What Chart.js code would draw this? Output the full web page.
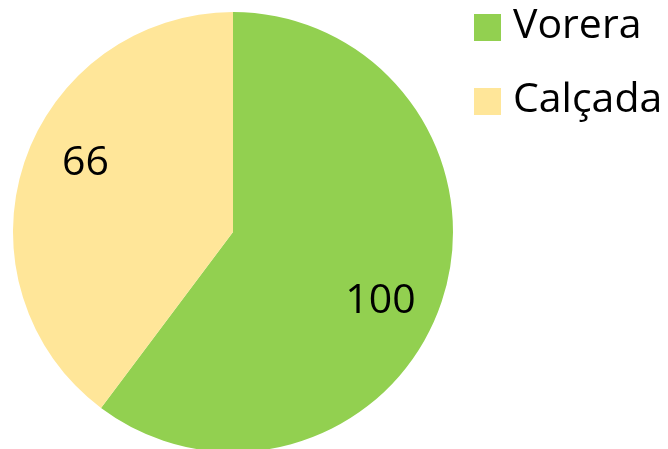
<!DOCTYPE html>
<html>
<head>
<meta charset="utf-8">
<script src="https://cdn.jsdelivr.net/npm/chart.js@4"></script>
<style>
  html, body { margin: 0; padding: 0; background: #fff; overflow: hidden; }
  #wrap { position: relative; width: 668px; height: 464px; }
</style>
</head>
<body>
<div id="wrap"><canvas id="pieChart"></canvas></div>
<script>
// slice data
const categories = ['Vorera', 'Calçada'];
const values = [100, 66];
const colors = ['#92D050', '#FFE699'];

const FONT = '"Open Sans", "Noto Sans", sans-serif';

// values drawn inside the slices
const sliceLabels = {
    id: 'sliceLabels',
    afterDatasetsDraw(chart) {
        const ctx = chart.ctx;
        const meta = chart.getDatasetMeta(0);
        ctx.save();
        ctx.font = '41px ' + FONT;
        ctx.fillStyle = '#000';
        ctx.textAlign = 'center';
        ctx.textBaseline = 'middle';
        meta.data.forEach((arc, i) => {
            const a = (arc.startAngle + arc.endAngle) / 2 + 0.115;
            const r = arc.outerRadius * 0.74;
            ctx.fillText(String(values[i]), arc.x + Math.cos(a) * r, arc.y + Math.sin(a) * r);
        });
        ctx.restore();
    }
};

// legend in the top right corner
const cornerLegend = {
    id: 'cornerLegend',
    afterDraw(chart) {
        const ctx = chart.ctx;
        ctx.save();
        ctx.font = '41px ' + FONT;
        ctx.textBaseline = 'middle';
        ctx.textAlign = 'left';
        categories.forEach((name, i) => {
            const y = 14 + i * 74;
            ctx.fillStyle = colors[i];
            ctx.fillRect(474, y, 27, 27);
            ctx.fillStyle = '#000';
            ctx.fillText(name, 513, y + 12);
        });
        ctx.restore();
    }
};

new Chart(document.getElementById('pieChart'), {
    type: 'pie',
    data: {
        labels: categories,
        datasets: [{
            data: values,
            backgroundColor: colors,
            borderWidth: 0
        }]
    },
    options: {
        responsive: true,
        maintainAspectRatio: false,
        animation: false,
        layout: { padding: { left: 13, top: 12, right: 215, bottom: 12 } },
        plugins: {
            legend: { display: false },
            tooltip: { enabled: false }
        }
    },
    plugins: [sliceLabels, cornerLegend]
});
</script>
</body>
</html>
